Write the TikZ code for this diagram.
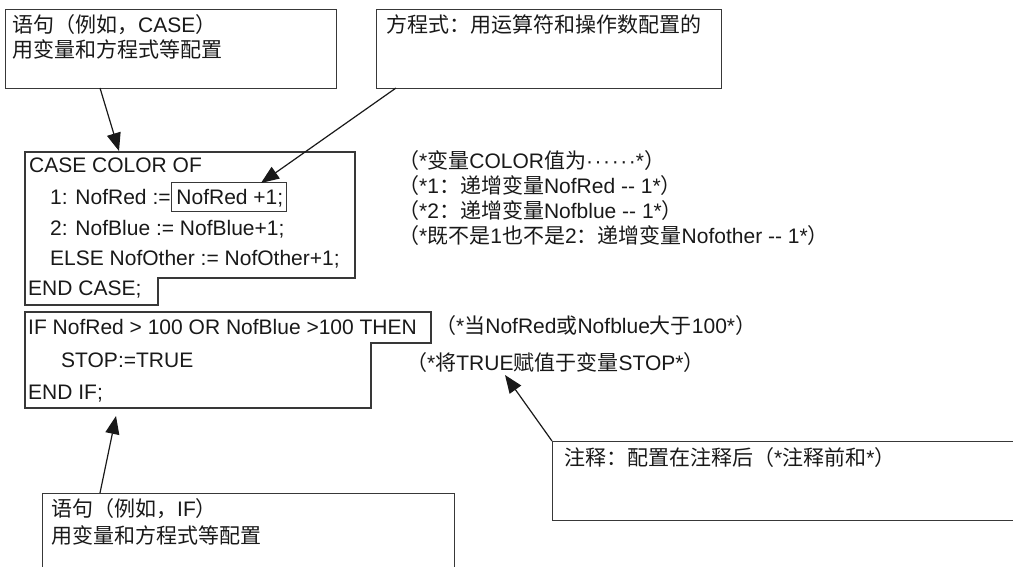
\documentclass[tikz,border=0pt]{standalone}
\usepackage{fontspec}
\setmainfont{Liberation Sans}
\newfontfamily\cjk{Noto Sans CJK SC}
\usetikzlibrary{arrows.meta}
\newcommand\zh[1]{{\cjk #1}}
\newcommand\middots{·\kern1.6pt·\kern1.6pt·\kern1.6pt·\kern1.6pt·\kern1.6pt·}
\begin{document}
\begin{tikzpicture}[x=1pt,y=-1pt,
  txt/.style={anchor=base west, inner sep=0pt, font=\fontsize{21}{25}\selectfont, text=black!90},
  boxline/.style={draw=black!78, line width=1.3pt},
  arr/.style={line width=1.2pt, draw=black!90, -{Triangle[length=18pt,width=14pt]}}]
\useasboundingbox (0,0) rectangle (1013,566);
\clip (0,0) rectangle (1013,566);

% top-left callout
\node[boxline, anchor=north west, inner sep=0pt, minimum width=331pt, minimum height=79pt] (b1) at (5,9) {};
\node[txt] (b1t1) at (12,32) {\zh{语句（例如，}CASE\zh{）}};
\node[txt] (b1t2) at (12,57) {\zh{用变量和方程式等配置}};

% top-middle callout
\node[boxline, anchor=north west, inner sep=0pt, minimum width=345pt, minimum height=79pt] (b2) at (376,9) {};
\node[txt] (b2t1) at (386,32) {\zh{方程式：用运算符和操作数配置的}};

% CASE block
\draw[boxline] (25,152) -- (355,152) -- (355,278) -- (158,278) -- (158,305) -- (25,305) -- cycle;
\node[txt] (c1) at (29,172.5) {CASE COLOR OF};
\node[txt] (c2) at (50,204.5) {1: NofRed := NofRed +1;};
\node[txt] (c3) at (50,235.5) {2: NofBlue := NofBlue+1;};
\node[txt] (c4) at (50,265.5) {ELSE NofOther := NofOther+1;};
\node[txt] (c5) at (28,295.5) {END CASE;};
\node[boxline, anchor=north west, inner sep=0pt, minimum width=115pt, minimum height=29pt] (nr) at (171,182) {};

% comments for CASE
\node[txt] (m1) at (398,168.5) {\zh{（}*\zh{变量}COLOR\zh{值为}\middots*\zh{）}};
\node[txt] (m2) at (398,193.5) {\zh{（}*1\zh{：递增变量}NofRed -{}- 1*\zh{）}};
\node[txt] (m3) at (398,218.5) {\zh{（}*2\zh{：递增变量}Nofblue -{}- 1*\zh{）}};
\node[txt] (m4) at (398,243.5) {\zh{（}*\zh{既不是}1\zh{也不是}2\zh{：递增变量}Nofother -{}- 1*\zh{）}};

% IF block
\draw[boxline] (25,312) -- (431,312) -- (431,343) -- (371,343) -- (371,408) -- (25,408) -- cycle;
\node[txt] (i1) at (28,334.5) {IF NofRed > 100 OR NofBlue >100 THEN};
\node[txt] (i2) at (61,367.5) {STOP:=TRUE};
\node[txt] (i3) at (28,399.5) {END IF;};

\node[txt] (m5) at (435,333) {\zh{（}*\zh{当}NofRed\zh{或}Nofblue\zh{大于}100*\zh{）}};
\node[txt] (m6) at (406,370) {\zh{（}*\zh{将}TRUE\zh{赋值于变量}STOP*\zh{）}};

% comment callout (bottom right)
\node[boxline, anchor=north west, inner sep=0pt, minimum width=480pt, minimum height=79pt] (b3) at (552,441) {};
\node[txt] (b3t1) at (564,465) {\zh{注释：配置在注释后（}*\zh{注释前和}*\zh{）}};

% IF statement callout (bottom left)
\node[boxline, anchor=north west, inner sep=0pt, minimum width=412pt, minimum height=100pt] (b4) at (42,493) {};
\node[txt] (b4t1) at (51,516) {\zh{语句（例如，}IF\zh{）}};
\node[txt] (b4t2) at (51,543) {\zh{用变量和方程式等配置}};

% connectors
\coordinate (a1s) at (100,88);   \coordinate (a1e) at (119,151);
\coordinate (a2s) at (396,88);   \coordinate (a2e) at (261,183);
\coordinate (a3s) at (100,493);  \coordinate (a3e) at (116,416);
\coordinate (a4s) at (552,441);  \coordinate (a4e) at (505,375);
\draw[arr] (a1s) -- (a1e);
\draw[arr] (a2s) -- (a2e);
\draw[arr] (a3s) -- (a3e);
\draw[arr] (a4s) -- (a4e);
\end{tikzpicture}
\end{document}
